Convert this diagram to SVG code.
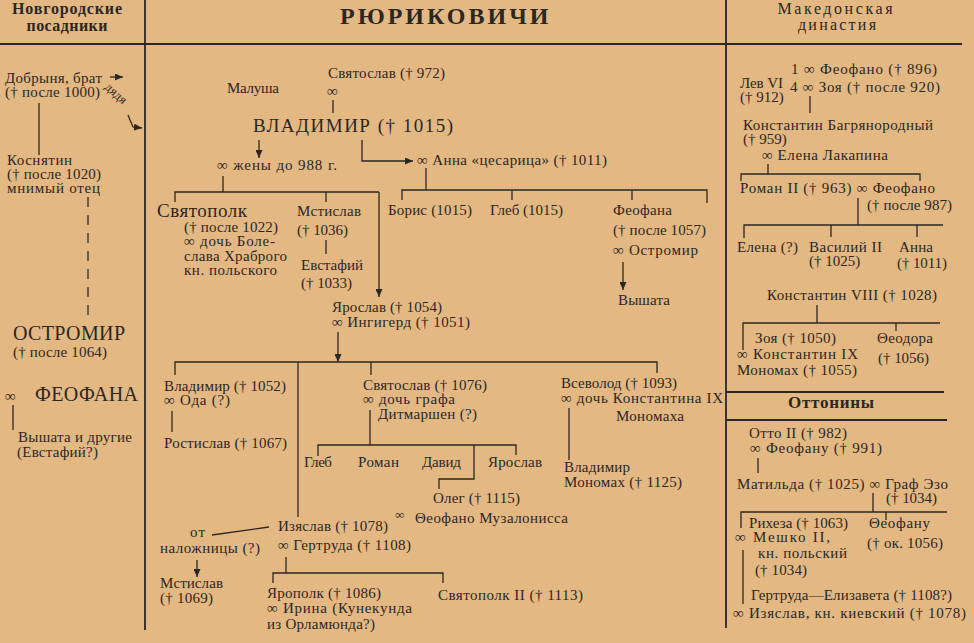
<svg xmlns="http://www.w3.org/2000/svg" width="974" height="643" viewBox="0 0 974 643" font-family="'Liberation Serif', 'DejaVu Serif', 'Times New Roman', serif">
<defs>
<style>
text{fill:#2b2723;font-size:15px}
.big{font-size:20px}
.mid{font-size:19px}
.hdr{font-weight:bold;font-size:16px}
.ttl{font-weight:bold;font-size:24px;letter-spacing:3px}
.sm{font-size:13px}
line,path,polyline{stroke:#2b2723;stroke-width:1.3;fill:none}
.frame{stroke-width:1.8}
.dash{stroke-dasharray:10 8}
</style>
<marker id="ar" markerUnits="userSpaceOnUse" markerWidth="9" markerHeight="7" refX="8" refY="3.5" orient="auto">
<path d="M0,0 L8,3.5 L0,7 z" style="fill:#2b2723;stroke:none"/>
</marker>
</defs>
<rect width="974" height="643" fill="#E3B883"/>

<g id="frame">
<line class="frame" x1="0" y1="44" x2="962" y2="44"/>
<line class="frame" x1="145" y1="0" x2="145" y2="630"/>
<line class="frame" x1="726" y1="0" x2="726" y2="628"/>
<line class="frame" x1="726" y1="392" x2="944" y2="392"/>
<line class="frame" x1="726" y1="420" x2="947" y2="420"/>
</g>

<g id="headers">
<text class="hdr" x="67" y="14" text-anchor="middle" textLength="110">Новгородские</text>
<text class="hdr" x="67" y="31" text-anchor="middle" textLength="81">посадники</text>
<text class="ttl" x="340" y="24">РЮРИКОВИЧИ</text>
<text x="835" y="14" text-anchor="middle" style="font-size:16px" textLength="115">Македонская</text>
<text x="837" y="30" text-anchor="middle" style="font-size:16px" textLength="78">династия</text>
<text class="hdr" x="831" y="408" text-anchor="middle" textLength="86" style="font-size:17px">Оттонины</text>
</g>

<g id="connectors">
<line x1="110" y1="77" x2="123" y2="77" marker-end="url(#ar)"/>
<path d="M128,115 L133,127 L142,128" marker-end="url(#ar)"/>
<line x1="39" y1="103" x2="39" y2="155"/>
<line class="dash" x1="88" y1="197" x2="88" y2="317"/>
<line x1="13" y1="405" x2="13" y2="430"/>
<line x1="333" y1="100" x2="333" y2="113"/>
<line x1="259" y1="140" x2="259" y2="158" marker-end="url(#ar)"/>
<path d="M362,140 V161 H413" marker-end="url(#ar)"/>
<line x1="223" y1="176" x2="223" y2="192"/>
<path d="M175,202 V192 H379"/>
<line x1="326" y1="192" x2="326" y2="202"/>
<line x1="379" y1="192" x2="379" y2="297" marker-end="url(#ar)"/>
<line x1="326" y1="240" x2="326" y2="254"/>
<line x1="426" y1="168" x2="426" y2="190"/>
<path d="M402,200 V190 H707 V203"/>
<line x1="512" y1="190" x2="512" y2="200"/>
<line x1="632" y1="190" x2="632" y2="200"/>
<line x1="623" y1="262" x2="623" y2="290" marker-end="url(#ar)"/>
<line x1="338" y1="332" x2="338" y2="362" marker-end="url(#ar)"/>
<path d="M175,375 V362 H657 V373"/>
<line x1="371" y1="362" x2="371" y2="375"/>
<line x1="298" y1="362" x2="298" y2="517"/>
<line x1="172" y1="411" x2="172" y2="432"/>
<line x1="370" y1="410" x2="370" y2="445"/>
<path d="M318,456 V445 H516 V455"/>
<path d="M474,445 V479 H439 V489"/>
<line x1="569" y1="408" x2="569" y2="460"/>
<line x1="212" y1="535" x2="269" y2="527"/>
<line x1="197" y1="560" x2="197" y2="577" marker-end="url(#ar)"/>
<line x1="286" y1="557" x2="286" y2="573"/>
<path d="M273,583 V573 H443 V583"/>
<line x1="810" y1="96" x2="810" y2="113"/>
<line x1="768" y1="164" x2="768" y2="174"/>
<path d="M741,181 V174 H920 V181"/>
<line x1="858" y1="198" x2="858" y2="225"/>
<path d="M744,238 V225 H943"/>
<line x1="831" y1="225" x2="831" y2="237"/>
<line x1="917" y1="225" x2="917" y2="237"/>
<line x1="817" y1="305" x2="817" y2="323"/>
<path d="M743,350 V323 H940"/>
<line x1="896" y1="323" x2="896" y2="331"/>
<line x1="758" y1="458" x2="758" y2="473"/>
<line x1="873" y1="493" x2="873" y2="512"/>
<path d="M741,528 V512 H947"/>
<line x1="886" y1="512" x2="886" y2="520"/>
<line x1="743" y1="550" x2="743" y2="604"/>
</g>

<g id="dobrynya"><text x="5" y="83" textLength="97">Добрыня, брат</text><text x="5" y="97" textLength="95">(† после 1000)</text>
<text class="sm" transform="translate(104,88) rotate(42)">дядя</text></g>
<g id="kosnyatin"><text x="7" y="165" textLength="65">Коснятин</text><text x="7" y="179" textLength="94">(† после 1020)</text><text x="7" y="193" textLength="93">мнимый отец</text></g>
<g id="ostromir"><text class="big" x="13" y="340" textLength="112">ОСТРОМИР</text><text x="13" y="357" textLength="94">(† после 1064)</text></g>
<g id="feofana-l"><text x="5" y="401">∞</text><text class="big" x="35" y="401" textLength="103">ФЕОФАНА</text></g>
<g id="vyshata-l"><text x="18" y="442" textLength="114">Вышата и другие</text><text x="17" y="457" textLength="81">(Евстафий?)</text></g>

<g id="malusha"><text x="227" y="93" textLength="52">Малуша</text></g>
<g id="svyatoslav1"><text x="328" y="78" textLength="117">Святослав († 972)</text><text x="327" y="96">∞</text></g>
<g id="vladimir"><text x="253" y="132" style="font-size:19px" textLength="200">ВЛАДИМИР († 1015)</text></g>
<g id="zheny"><text x="217" y="170" textLength="120">∞ жены до 988 г.</text></g>
<g id="anna-ts"><text x="417" y="165" textLength="190">∞ Анна «цесарица» († 1011)</text></g>
<g id="svyatopolk"><text class="mid" x="157" y="217" textLength="90">Святополк</text><text x="184" y="232" textLength="94">(† после 1022)</text><text x="184" y="246" textLength="91">∞ дочь Боле-</text><text x="184" y="261" textLength="103">слава Храброго</text><text x="184" y="275" textLength="93">кн. польского</text></g>
<g id="mstislav1"><text x="297" y="216" textLength="64">Мстислав</text><text x="297" y="235" textLength="51">(† 1036)</text></g>
<g id="evstafiy"><text x="301" y="270" textLength="62">Евстафий</text><text x="301" y="288" textLength="51">(† 1033)</text></g>
<g id="boris"><text x="388" y="215" textLength="84">Борис (1015)</text></g>
<g id="gleb1"><text x="490" y="215" textLength="73">Глеб (1015)</text></g>
<g id="feofana-c"><text x="613" y="215" textLength="59">Феофана</text><text x="613" y="235" textLength="93">(† после 1057)</text><text x="613" y="255" textLength="85">∞ Остромир</text></g>
<g id="vyshata-c"><text x="618" y="305" textLength="52">Вышата</text></g>
<g id="yaroslav"><text x="332" y="312" textLength="110">Ярослав († 1054)</text><text x="332" y="327" textLength="138">∞ Ингигерд († 1051)</text></g>
<g id="vladimir2"><text x="164" y="391" textLength="122">Владимир († 1052)</text><text x="164" y="405" textLength="66">∞ Ода (?)</text></g>
<g id="rostislav"><text x="164" y="448" textLength="123">Ростислав († 1067)</text></g>
<g id="svyatoslav2"><text x="363" y="390" textLength="124">Святослав († 1076)</text><text x="363" y="404" textLength="92">∞ дочь графа</text><text x="378" y="419" textLength="99">Дитмаршен (?)</text></g>
<g id="gleb2"><text x="304" y="467" textLength="28">Глеб</text></g>
<g id="roman"><text x="358" y="467" textLength="41">Роман</text></g>
<g id="david"><text x="422" y="467" textLength="39">Давид</text></g>
<g id="yaroslav2"><text x="488" y="467" textLength="54">Ярослав</text></g>
<g id="oleg"><text x="433" y="503" textLength="87">Олег († 1115)</text><text class="sm" x="395" y="519">∞</text><text x="415" y="523" textLength="153">Θеофано Музалонисса</text></g>
<g id="vsevolod"><text x="561" y="388" textLength="116">Всеволод († 1093)</text><text x="561" y="403" textLength="162">∞ дочь Константина IX</text><text x="616" y="421" textLength="68">Мономаха</text></g>
<g id="monomakh"><text x="564" y="472" textLength="66">Владимир</text><text x="564" y="487" textLength="118">Мономах († 1125)</text></g>
<g id="izyaslav"><text x="278" y="531" textLength="110">Изяслав († 1078)</text><text x="278" y="550" textLength="133">∞ Гертруда († 1108)</text></g>
<g id="nalozhn"><text x="190" y="537" textLength="15">от</text><text x="160" y="553" textLength="100">наложницы (?)</text></g>
<g id="mstislav2"><text x="160" y="588" textLength="63">Мстислав</text><text x="160" y="603" textLength="53">(† 1069)</text></g>
<g id="yaropolk"><text x="267" y="598" textLength="114">Ярополк († 1086)</text><text x="267" y="613" textLength="145">∞ Ирина (Кунекунда</text><text x="267" y="629" textLength="108">из Орламюнда?)</text></g>
<g id="svyatopolk2"><text x="438" y="600" textLength="145">Святополк II († 1113)</text></g>

<g id="lev"><text x="740" y="88" textLength="43">Лев VI</text><text x="740" y="102">(† 912)</text><text x="791" y="74" textLength="146">1 ∞ Феофано († 896)</text><text x="790" y="92" textLength="150">4 ∞ Зоя († после 920)</text></g>
<g id="konst7"><text x="743" y="130" textLength="190">Константин Багрянородный</text><text x="743" y="144">(† 959)</text><text x="762" y="160" textLength="126">∞ Елена Лакапина</text></g>
<g id="roman2"><text x="740" y="193" textLength="195">Роман II († 963) ∞ Феофано</text><text x="867" y="210" textLength="85">(† после 987)</text></g>
<g id="elena"><text x="737" y="252" textLength="61">Елена (?)</text></g>
<g id="vasiliy"><text x="809" y="252" textLength="73">Василий II</text><text x="809" y="266">(† 1025)</text></g>
<g id="anna2"><text x="899" y="252" textLength="34">Анна</text><text x="897" y="268" textLength="50">(† 1011)</text></g>
<g id="konst8"><text x="767" y="300" textLength="170">Константин VIII († 1028)</text></g>
<g id="zoya"><text x="755" y="343" textLength="81">Зоя († 1050)</text><text x="737" y="359" textLength="121">∞ Константин IX</text><text x="737" y="375" textLength="120">Мономах († 1055)</text></g>
<g id="feodora"><text x="877" y="343" textLength="56">Θеодора</text><text x="878" y="363" textLength="51">(† 1056)</text></g>

<g id="otto"><text x="749" y="438" textLength="98">Отто II († 982)</text><text x="750" y="453" textLength="132">∞ Феофану († 991)</text></g>
<g id="matilda"><text x="737" y="489" textLength="211">Матильда († 1025) ∞ Граф Эзо</text><text x="886" y="503" textLength="51">(† 1034)</text></g>
<g id="rikheza"><text x="749" y="528" textLength="99">Рихеза († 1063)</text><text x="735" y="542" textLength="95">∞ Мешко II,</text><text x="758" y="558" textLength="89">кн. польский</text><text x="755" y="575" textLength="52">(† 1034)</text></g>
<g id="feofanu"><text x="869" y="528" textLength="61">Θеофану</text><text x="867" y="548" textLength="76">(† ок. 1056)</text></g>
<g id="gertruda"><text x="751" y="600" textLength="201">Гертруда—Елизавета († 1108?)</text><text x="733" y="618" textLength="233">∞ Изяслав, кн. киевский († 1078)</text></g>
</svg>
